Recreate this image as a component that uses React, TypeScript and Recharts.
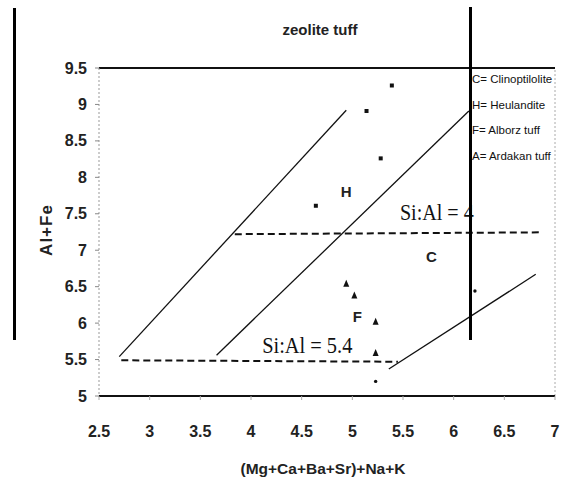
import { ScatterChart, Scatter, XAxis, YAxis, ReferenceLine } from "recharts";

const xTicks = [2.5, 3, 3.5, 4, 4.5, 5, 5.5, 6, 6.5, 7];
const yTicks = [5, 5.5, 6, 6.5, 7, 7.5, 8, 8.5, 9, 9.5];

// H field points (squares)
const heulandite = [
  { x: 5.39, y: 9.26 },
  { x: 5.14, y: 8.91 },
  { x: 5.28, y: 8.26 },
  { x: 4.64, y: 7.61 },
];
// Alborz tuff (triangles)
const alborz = [
  { x: 4.94, y: 6.54 },
  { x: 5.02, y: 6.38 },
  { x: 5.23, y: 6.02 },
  { x: 5.23, y: 5.59 },
];
// Ardakan tuff (dots)
const ardakan = [
  { x: 5.23, y: 5.2 },
  { x: 6.21, y: 6.44 },
];

const boundaryA = [{ x: 2.7, y: 5.54 }, { x: 4.94, y: 8.92 }];
const boundaryB = [{ x: 3.66, y: 5.56 }, { x: 6.15, y: 8.91 }];
const boundaryC = [{ x: 5.36, y: 5.37 }, { x: 6.81, y: 6.67 }];
const siAl4 = [{ x: 3.84, y: 7.22 }, { x: 6.84, y: 7.245 }];
const siAl54 = [{ x: 2.72, y: 5.49 }, { x: 5.45, y: 5.47 }];

const ratioNotes = [
  { x: 5.47, y: 7.41, text: "Si:Al = 4" },
  { x: 4.11, y: 5.59, text: "Si:Al = 5.4" },
];
const fieldNotes = [
  { x: 4.94, y: 7.8, text: "H" },
  { x: 5.78, y: 6.92, text: "C" },
  { x: 5.05, y: 6.09, text: "F" },
];

const legendItems = [
  "C= Clinoptilolite",
  "H= Heulandite",
  "F= Alborz tuff",
  "A= Ardakan tuff",
];

const SANS = "'Liberation Sans', Arial, sans-serif";
const SERIF = "'Liberation Serif', 'Times New Roman', serif";

const XTick = ({ x, y, payload }: any) => (
  <text x={x} y={y + 31} textAnchor="middle" dominantBaseline="central" fontFamily={SANS} fontWeight="bold" fontSize={16} fill="#222">
    {payload.value}
  </text>
);

const YTick = ({ x, y, payload }: any) => (
  <text x={x - 8} y={y} textAnchor="end" dominantBaseline="central" fontFamily={SANS} fontWeight="bold" fontSize={16} fill="#222">
    {payload.value}
  </text>
);

const squareShape = (p: any) => <rect x={p.cx - 2} y={p.cy - 2} width={4} height={4} fill="#111" />;
const triShape = (p: any) => (
  <path d={`M${p.cx},${p.cy - 4} L${p.cx + 3},${p.cy + 3} L${p.cx - 3},${p.cy + 3} Z`} fill="#111" />
);
const dotShape = (p: any) => <circle cx={p.cx} cy={p.cy} r={1.7} fill="#111" />;
const ratioShape = (p: any) => (
  <text x={p.cx} y={p.cy} fontFamily={SERIF} fontSize={24} fill="#111" textLength={p.payload.text.length * 8.2} lengthAdjust="spacingAndGlyphs">
    {p.payload.text}
  </text>
);
const fieldShape = (p: any) => (
  <text x={p.cx} y={p.cy} textAnchor="middle" dominantBaseline="central" fontFamily={SANS} fontWeight="bold" fontSize={15} fill="#222">
    {p.payload.text}
  </text>
);

export default function App() {
  return (
    <div style={{ position: "absolute", left: 0, top: 0, width: 569, height: 485, background: "#fff", fontFamily: SANS }}>
      <ScatterChart width={569} height={485} margin={{ top: 68, right: 14, bottom: 59, left: 39 }}>
        <XAxis
          dataKey="x"
          type="number"
          domain={[2.5, 7]}
          ticks={xTicks}
          allowDataOverflow
          height={30}
          tickSize={4}
          tickMargin={0}
          axisLine={{ stroke: "#111", strokeWidth: 2 }}
          tickLine={{ stroke: "#aaa" }}
          tick={<XTick />}
        />
        <YAxis
          dataKey="y"
          type="number"
          domain={[5, 9.5]}
          ticks={yTicks}
          allowDataOverflow
          width={60}
          tickSize={4}
          tickMargin={0}
          axisLine={{ stroke: "#999", strokeDasharray: "2 2" }}
          tickLine={{ stroke: "#888" }}
          tick={<YTick />}
        />
        <ReferenceLine y={9.5} stroke="#111" strokeWidth={2} />
        <ReferenceLine x={7} stroke="#aaa" strokeDasharray="2 2" />
        <ReferenceLine segment={boundaryA} stroke="#111" strokeWidth={1.3} ifOverflow="visible" />
        <ReferenceLine segment={boundaryB} stroke="#111" strokeWidth={1.3} ifOverflow="visible" />
        <ReferenceLine segment={boundaryC} stroke="#111" strokeWidth={1.3} ifOverflow="visible" />
        <ReferenceLine segment={siAl4} stroke="#111" strokeWidth={2} strokeDasharray="7 4" ifOverflow="visible" />
        <ReferenceLine segment={siAl54} stroke="#111" strokeWidth={2} strokeDasharray="7 4" ifOverflow="visible" />
        <Scatter data={heulandite} shape={squareShape} isAnimationActive={false} />
        <Scatter data={alborz} shape={triShape} isAnimationActive={false} />
        <Scatter data={ardakan} shape={dotShape} isAnimationActive={false} />
        <Scatter data={ratioNotes} shape={ratioShape} isAnimationActive={false} />
        <Scatter data={fieldNotes} shape={fieldShape} isAnimationActive={false} />
      </ScatterChart>

      <div style={{ position: "absolute", left: 0, width: 640, top: 21, textAlign: "center", fontSize: 15, fontWeight: "bold", color: "#222" }}>
        zeolite tuff
      </div>
      <div style={{ position: "absolute", left: 47, top: 230, transform: "translate(-50%, -50%) rotate(-90deg)", fontSize: 17, fontWeight: "bold", color: "#222", whiteSpace: "nowrap", letterSpacing: 1 }}>
        Al+Fe
      </div>
      <div style={{ position: "absolute", left: 0, width: 646, top: 460, textAlign: "center", fontSize: 15.5, fontWeight: "bold", color: "#222", whiteSpace: "nowrap" }}>
        (Mg+Ca+Ba+Sr)+Na+K
      </div>
      {legendItems.map((t, i) => (
        <div key={t} style={{ position: "absolute", left: 472, top: 73 + i * 25.5, fontSize: 11.5, color: "#111", whiteSpace: "nowrap" }}>
          {t}
        </div>
      ))}
      <div style={{ position: "absolute", left: 13, top: 8, width: 2.5, height: 332, background: "#000" }} />
      <div style={{ position: "absolute", left: 469, top: 7, width: 2.5, height: 333, background: "#000" }} />
    </div>
  );
}
